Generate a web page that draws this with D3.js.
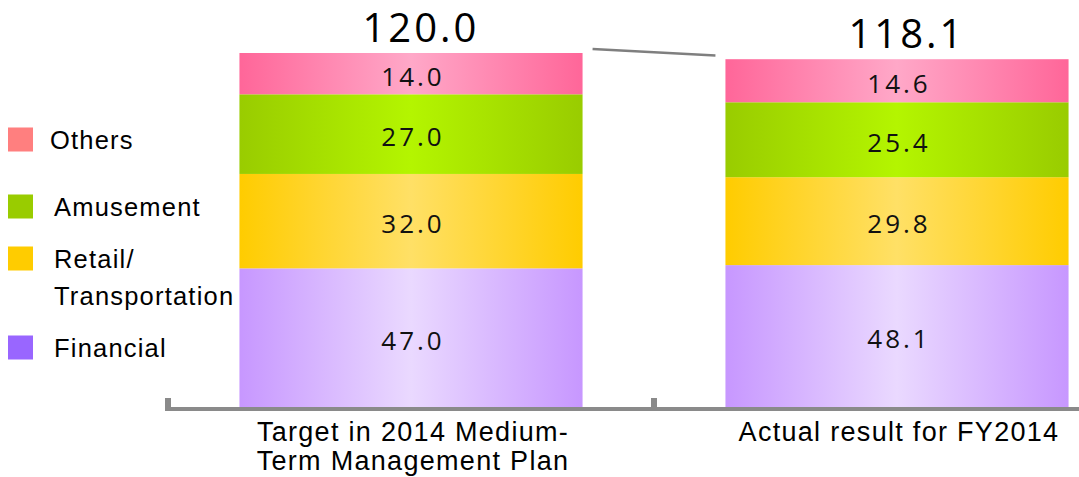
<!DOCTYPE html>
<html>
<head>
<meta charset="utf-8">
<script src="https://cdn.jsdelivr.net/npm/d3@7"></script>
<style>
  body { margin: 0; background: #fff; }
  svg { display: block; }
</style>
</head>
<body>
<div id="chart-area"></div>
<script>
// data
const categories = ["Target in 2014 Medium-Term Management Plan", "Actual result for FY2014"]
const categoryLines = [["Target in 2014 Medium-", "Term Management Plan"], ["Actual result for FY2014"]]
const seriesNames = ["Financial", "Retail/Transportation", "Amusement", "Others"]
const financial = [47.0, 48.1]
const retail = [32.0, 29.8]
const amusement = [27.0, 25.4]
const others = [14.0, 14.6]
const totals = [120.0, 118.1]
const legendOrder = ["Others", "Amusement", "Retail/Transportation", "Financial"]
const legendLines = [["Others"], ["Amusement"], ["Retail/", "Transportation"], ["Financial"]]

const WIDTH = 1079
const HEIGHT = 477

const svg = d3.select("#chart-area").append("svg")
  .attr("width", WIDTH)
  .attr("height", HEIGHT)

// gradients: dark edges, light middle
const grad = {
  "Financial": ["#c797ff", "#ead9ff"],
  "Retail/Transportation": ["#ffcc00", "#ffe066"],
  "Amusement": ["#99cc00", "#b4f500"],
  "Others": ["#ff6699", "#ffa8c8"]
}
const legendColor = {
  "Financial": "#9966ff",
  "Retail/Transportation": "#ffcc00",
  "Amusement": "#99cc00",
  "Others": "#ff7f7f"
}

const defs = svg.append("defs")
seriesNames.forEach((s, i) => {
  const lg = defs.append("linearGradient")
    .attr("id", "g" + i)
    .attr("x1", "0%").attr("x2", "100%")
    .attr("y1", "0%").attr("y2", "0%")
  lg.append("stop").attr("offset", "0%").attr("stop-color", grad[s][0])
  lg.append("stop").attr("offset", "50%").attr("stop-color", grad[s][1])
  lg.append("stop").attr("offset", "100%").attr("stop-color", grad[s][0])
})

const table = categories.map((c, i) => ({
  cat: c,
  "Financial": financial[i],
  "Retail/Transportation": retail[i],
  "Amusement": amusement[i],
  "Others": others[i],
  total: totals[i]
}))

const x = d3.scaleBand()
  .domain(categories)
  .range([168, 1140])
  .padding(0)

const barW = x.bandwidth() * 0.706
const barX = d => x(d) + (x.bandwidth() - barW) / 2

const y = d3.scaleLinear()
  .domain([0, 120])
  .range([407, 53])

const stacked = d3.stack().keys(seriesNames)(table)

// bars
const layers = svg.selectAll("g.layer")
  .data(stacked)
  .enter().append("g")
  .attr("class", "layer")
  .attr("fill", (d, i) => `url(#g${i})`)

layers.selectAll("rect")
  .data(d => d)
  .enter().append("rect")
  .attr("x", d => barX(d.data.cat))
  .attr("width", barW)
  .attr("y", d => y(d[1]))
  .attr("height", d => y(d[0]) - y(d[1]))

// segment labels
layers.selectAll("text")
  .data(d => d)
  .enter().append("text")
  .attr("x", d => x(d.data.cat) + x.bandwidth() / 2 + 2)
  .attr("y", d => (y(d[0]) + y(d[1])) / 2 + 12)
  .attr("text-anchor", "middle")
  .attr("font-family", "'Open Sans', sans-serif")
  .attr("font-size", "26px")
  .attr("letter-spacing", "3px")
  .attr("fill", "#111")
  .text(d => (d[1] - d[0]).toFixed(1))

// totals
svg.selectAll("text.total")
  .data(table)
  .enter().append("text")
  .attr("class", "total")
  .attr("x", d => x(d.cat) + x.bandwidth() / 2 + 10)
  .attr("y", d => y(d.total) - 11)
  .attr("text-anchor", "middle")
  .attr("font-family", "'Open Sans', sans-serif")
  .attr("font-size", "40px")
  .attr("letter-spacing", "3px")
  .attr("fill", "#000")
  .text(d => d.total.toFixed(1))

// connector between bar tops
svg.append("line")
  .attr("x1", barX(categories[0]) + barW + 10)
  .attr("y1", y(totals[0]) - 4)
  .attr("x2", barX(categories[1]) - 10)
  .attr("y2", y(totals[1]) - 3)
  .attr("stroke", "#7f7f7f")
  .attr("stroke-width", 2.5)

// axis line + ticks at band edges
const axisY = 409
svg.append("line")
  .attr("x1", x.range()[0] - 3)
  .attr("x2", WIDTH)
  .attr("y1", axisY).attr("y2", axisY)
  .attr("stroke", "#8a8a8a")
  .attr("stroke-width", 4)

svg.selectAll("line.tick")
  .data(categories)
  .enter().append("line")
  .attr("class", "tick")
  .attr("x1", d => x(d)).attr("x2", d => x(d))
  .attr("y1", axisY - 11).attr("y2", axisY + 2)
  .attr("stroke", "#8a8a8a")
  .attr("stroke-width", 6)

// category labels
const catText = svg.selectAll("text.cat")
  .data(categories)
  .enter().append("text")
  .attr("class", "cat")
  .attr("text-anchor", "middle")
  .attr("font-family", "'Liberation Sans', Arial, sans-serif")
  .attr("font-size", "27px")
  .attr("letter-spacing", "1.3px")
  .attr("fill", "#000")

catText.selectAll("tspan")
  .data((d, i) => categoryLines[i].map(t => ({ t, c: d })))
  .enter().append("tspan")
  .attr("x", d => x(d.c) + x.bandwidth() / 2 + 2)
  .attr("y", (d, j) => 441 + j * 28.5)
  .text(d => d.t)

// legend
let ly = 149
legendOrder.forEach((s, i) => {
  const g = svg.append("g")
  g.append("rect")
    .attr("x", 8)
    .attr("y", ly - 21.5)
    .attr("width", 25)
    .attr("height", 24)
    .attr("fill", legendColor[s])
  const t = g.append("text")
    .attr("font-family", "'Liberation Sans', Arial, sans-serif")
    .attr("font-size", "25.5px")
    .attr("letter-spacing", "1.2px")
    .attr("fill", "#000")
  legendLines[i].forEach((line, j) => {
    t.append("tspan")
      .attr("x", i === 0 ? 50 : 54)
      .attr("y", ly + j * 37)
      .text(line)
  })
  ly += (legendLines[i].length - 1) * 37 + 52 + (i === 0 ? 15 : 0)
})
</script>
</body>
</html>
